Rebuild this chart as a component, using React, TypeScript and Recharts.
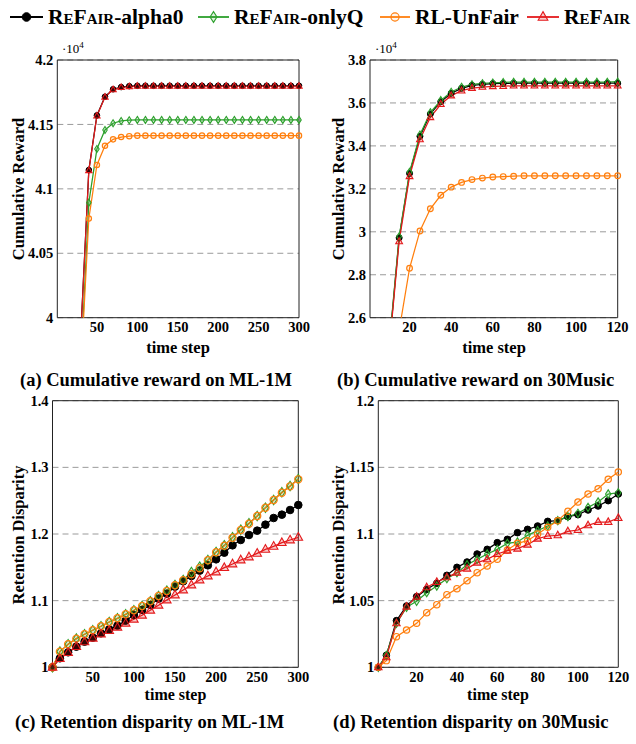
import React from 'react';
import { LineChart, Line, XAxis, YAxis, CartesianGrid, ReferenceArea } from 'recharts';

const FONT = '"Liberation Serif", "Times New Roman", serif';

const C_BLACK = '#000000';
const C_GREEN = '#2ca02c';
const C_ORANGE = '#ff7f0e';
const C_RED = '#e41a1c';

// ---------- (a) Cumulative reward on ML-1M (units of 1e4) ----------
const xA = [1, 10, 20, 30, 40, 50, 60, 70, 80, 90, 100, 110, 120, 130, 140, 150, 160, 170, 180, 190, 200, 210, 220, 230, 240, 250, 260, 270, 280, 290, 300];
const alpha0A = [1.0, 2.5, 3.6, 3.987, 4.1146, 4.157, 4.1715, 4.1773, 4.179, 4.1797, 4.18, 4.18, 4.18, 4.18, 4.18, 4.18, 4.18, 4.18, 4.18, 4.18, 4.18, 4.18, 4.18, 4.18, 4.18, 4.18, 4.18, 4.18, 4.18, 4.18, 4.18];
const onlyQA = [1.0, 2.5, 3.5, 3.962, 4.0893, 4.1309, 4.1457, 4.1509, 4.1527, 4.1533, 4.1535, 4.1535, 4.1535, 4.1535, 4.1535, 4.1535, 4.1535, 4.1535, 4.1535, 4.1535, 4.1535, 4.1535, 4.1535, 4.1535, 4.1535, 4.1535, 4.1535, 4.1535, 4.1535, 4.1535, 4.1535];
const unfairA = [1.0, 2.4, 3.45, 3.958, 4.0769, 4.1185, 4.1335, 4.1384, 4.1402, 4.1409, 4.1413, 4.1413, 4.1413, 4.1413, 4.1413, 4.1413, 4.1413, 4.1413, 4.1413, 4.1413, 4.1413, 4.1413, 4.1413, 4.1413, 4.1413, 4.1413, 4.1413, 4.1413, 4.1413, 4.1413, 4.1413];
const refairA = [1.0, 2.5, 3.6, 3.986, 4.1142, 4.1566, 4.1712, 4.177, 4.1787, 4.1794, 4.1797, 4.1797, 4.1797, 4.1797, 4.1797, 4.1797, 4.1797, 4.1797, 4.1797, 4.1797, 4.1797, 4.1797, 4.1797, 4.1797, 4.1797, 4.1797, 4.1797, 4.1797, 4.1797, 4.1797, 4.1797];
const xTicksA = [50, 100, 150, 200, 250, 300];
const yTicksA = [4, 4.05, 4.1, 4.15, 4.2];

// ---------- (b) Cumulative reward on 30Music (units of 1e4) ----------
const xB = [1, 5, 10, 15, 20, 25, 30, 35, 40, 45, 50, 55, 60, 65, 70, 75, 80, 85, 90, 95, 100, 105, 110, 115, 120];
const alpha0B = [0.6, 1.7, 2.44, 2.972, 3.272, 3.445, 3.549, 3.606, 3.645, 3.668, 3.682, 3.687, 3.69, 3.691, 3.692, 3.692, 3.692, 3.692, 3.692, 3.692, 3.692, 3.692, 3.692, 3.692, 3.692];
const onlyQB = [0.6, 1.7, 2.45, 2.978, 3.278, 3.452, 3.556, 3.612, 3.651, 3.674, 3.686, 3.691, 3.694, 3.696, 3.697, 3.697, 3.697, 3.697, 3.697, 3.697, 3.697, 3.697, 3.697, 3.697, 3.699];
const unfairB = [0.4, 1.2, 2.0, 2.54, 2.83, 3.004, 3.107, 3.17, 3.208, 3.23, 3.243, 3.25, 3.255, 3.257, 3.259, 3.261, 3.261, 3.261, 3.261, 3.261, 3.261, 3.261, 3.261, 3.261, 3.261];
const refairB = [0.6, 1.7, 2.43, 2.955, 3.258, 3.43, 3.533, 3.594, 3.634, 3.657, 3.669, 3.674, 3.677, 3.678, 3.68, 3.68, 3.68, 3.68, 3.68, 3.68, 3.68, 3.68, 3.68, 3.68, 3.68];
const xTicksB = [20, 40, 60, 80, 100, 120];
const yTicksB = [2.6, 2.8, 3, 3.2, 3.4, 3.6, 3.8];

// ---------- (c) Retention disparity on ML-1M ----------
const xC = [1, 10, 20, 30, 40, 50, 60, 70, 80, 90, 100, 110, 120, 130, 140, 150, 160, 170, 180, 190, 200, 210, 220, 230, 240, 250, 260, 270, 280, 290, 300];
const alpha0C = [1.0, 1.0135, 1.0225, 1.031, 1.0385, 1.0445, 1.051, 1.057, 1.0625, 1.07, 1.0785, 1.086, 1.0935, 1.103, 1.1105, 1.121, 1.129, 1.137, 1.145, 1.153, 1.162, 1.172, 1.183, 1.191, 1.1985, 1.205, 1.214, 1.224, 1.229, 1.236, 1.2435];
const onlyQC = [1.0, 1.0235, 1.0345, 1.043, 1.0495, 1.0555, 1.0615, 1.068, 1.0735, 1.0795, 1.0855, 1.092, 1.099, 1.107, 1.115, 1.1235, 1.131, 1.143, 1.151, 1.161, 1.173, 1.183, 1.195, 1.2065, 1.216, 1.227, 1.2395, 1.251, 1.2625, 1.272, 1.2825];
const unfairC = [1.0, 1.0235, 1.0345, 1.043, 1.0495, 1.0555, 1.0615, 1.068, 1.0735, 1.0795, 1.0855, 1.092, 1.099, 1.107, 1.1145, 1.123, 1.1305, 1.1395, 1.1485, 1.1605, 1.1725, 1.1825, 1.1945, 1.206, 1.2155, 1.227, 1.2395, 1.251, 1.262, 1.2715, 1.282];
const refairC = [1.0, 1.013, 1.022, 1.031, 1.038, 1.0435, 1.05, 1.055, 1.06, 1.066, 1.072, 1.078, 1.0855, 1.093, 1.101, 1.1085, 1.116, 1.1235, 1.131, 1.137, 1.143, 1.1495, 1.155, 1.161, 1.1655, 1.171, 1.177, 1.1815, 1.187, 1.191, 1.195];
const xTicksC = [50, 100, 150, 200, 250, 300];
const yTicksC = [1, 1.1, 1.2, 1.3, 1.4];

// ---------- (d) Retention disparity on 30Music ----------
const xD = [1, 5, 10, 15, 20, 25, 30, 35, 40, 45, 50, 55, 60, 65, 70, 75, 80, 85, 90, 95, 100, 105, 110, 115, 120];
const alpha0D = [1.0, 1.009, 1.035, 1.046, 1.053, 1.0585, 1.063, 1.069, 1.075, 1.079, 1.085, 1.0885, 1.0935, 1.096, 1.101, 1.1035, 1.106, 1.1095, 1.11, 1.113, 1.1145, 1.118, 1.121, 1.125, 1.13];
const onlyQD = [1.0, 1.009, 1.033, 1.045, 1.0495, 1.056, 1.061, 1.0665, 1.071, 1.077, 1.081, 1.085, 1.0885, 1.093, 1.094, 1.099, 1.1025, 1.106, 1.11, 1.113, 1.1155, 1.12, 1.124, 1.13, 1.131];
const unfairD = [1.0, 1.005, 1.023, 1.028, 1.033, 1.041, 1.047, 1.0545, 1.059, 1.065, 1.071, 1.076, 1.081, 1.088, 1.093, 1.095, 1.1, 1.105, 1.11, 1.117, 1.124, 1.13, 1.134, 1.141, 1.1465];
const refairD = [1.0, 1.0075, 1.033, 1.0455, 1.053, 1.06, 1.064, 1.0675, 1.071, 1.074, 1.0785, 1.081, 1.085, 1.0875, 1.089, 1.092, 1.0965, 1.0985, 1.099, 1.102, 1.103, 1.1065, 1.109, 1.109, 1.112];
const xTicksD = [20, 40, 60, 80, 100, 120];
const yTicksD = [1, 1.05, 1.1, 1.15, 1.2];

const SERIES = [
  { key: 'alpha0', color: C_BLACK, shape: 'disc' },
  { key: 'onlyQ', color: C_GREEN, shape: 'diamond' },
  { key: 'unfair', color: C_ORANGE, shape: 'ring' },
  { key: 'refair', color: C_RED, shape: 'triangle' },
];

function buildRows(xs: number[], a: number[], q: number[], u: number[], r: number[], y0: number, y1: number) {
  const inR = (v: number) => (v >= y0 && v <= y1 ? v : null);
  return xs.map((x, i) => ({
    x,
    alpha0: a[i], onlyQ: q[i], unfair: u[i], refair: r[i],
    alpha0_m: inR(a[i]), onlyQ_m: inR(q[i]), unfair_m: inR(u[i]), refair_m: inR(r[i]),
  }));
}

function markerShape(shape: string, color: string, cx: number, cy: number, s: number, key?: string) {
  if (shape === 'disc') {
    return <circle key={key} cx={cx} cy={cy} r={s} fill={color} stroke={color} strokeWidth={1} />;
  }
  if (shape === 'ring') {
    return <circle key={key} cx={cx} cy={cy} r={s * 0.95} fill={color} fillOpacity={0.08} stroke={color} strokeWidth={1.2} />;
  }
  if (shape === 'diamond') {
    const w = s * 0.8, h = s * 1.25;
    return <path key={key} d={`M${cx},${cy - h}L${cx + w},${cy}L${cx},${cy + h}L${cx - w},${cy}Z`} fill={color} fillOpacity={0.15} stroke={color} strokeWidth={1.1} />;
  }
  const t = s * 1.25;
  return <path key={key} d={`M${cx},${cy - t}L${cx + t * 0.9},${cy + t * 0.6}L${cx - t * 0.9},${cy + t * 0.6}Z`} fill={color} fillOpacity={0.22} stroke={color} strokeWidth={1.1} />;
}

const makeDot = (shape: string, color: string, s: number) => (p: any) => {
  const k = `m-${p.index}`;
  if (p.cx == null || p.cy == null || p.value == null || Number.isNaN(p.cy)) return <g key={k} />;
  return markerShape(shape, color, p.cx, p.cy, s, k);
};

type Rect = { left: number; top: number; right: number; bottom: number };
type Box = { left: number; top: number; width: number; height: number };

function Panel(props: {
  box: Box; plot: Rect; rows: any[]; xDomain: [number, number]; xTicks: number[];
  yDomain: [number, number]; yTicks: number[]; ms: number;
}) {
  const { box, plot, rows, xDomain, xTicks, yDomain, yTicks, ms } = props;
  const xH = 24;
  const margin = {
    top: plot.top - box.top,
    right: box.left + box.width - plot.right,
    left: 0,
    bottom: box.top + box.height - plot.bottom - xH,
  };
  const tickStyle = { fill: '#000', fontFamily: FONT, fontWeight: 700, fontSize: 14.5 };
  return (
    <div style={{ position: 'absolute', left: box.left, top: box.top, width: box.width, height: box.height }}>
      <LineChart width={box.width} height={box.height} data={rows} margin={margin}>
        <CartesianGrid yAxisId="main" vertical={false} stroke="#9a9a9a" strokeDasharray="6 4" strokeWidth={1} />
        <XAxis dataKey="x" type="number" domain={xDomain} ticks={xTicks} interval={0}
          tickLine={false} axisLine={false} tickSize={0} tickMargin={4} height={xH} tick={tickStyle} />
        <YAxis yAxisId="main" type="number" domain={yDomain} ticks={yTicks} interval={0} allowDataOverflow
          width={plot.left - box.left} tickLine={false} axisLine={false} tickSize={0} tickMargin={4} tick={tickStyle} />
        <YAxis yAxisId="mk" type="number" domain={yDomain} ticks={yTicks} hide />
        <ReferenceArea yAxisId="main" x1={xDomain[0]} x2={xDomain[1]} y1={yDomain[0]} y2={yDomain[1]}
          fill="none" stroke="#222" strokeWidth={1} />
        {SERIES.flatMap((s) => [
          <Line key={s.key} yAxisId="main" type="linear" dataKey={s.key} stroke={s.color} strokeWidth={1.25}
            dot={false} activeDot={false} isAnimationActive={false} />,
          <Line key={s.key + '_m'} yAxisId="mk" type="linear" dataKey={s.key + '_m'} stroke="none"
            dot={makeDot(s.shape, s.color, ms)} activeDot={false} isAnimationActive={false} />,
        ])}
      </LineChart>
    </div>
  );
}

const rowsA = buildRows(xA, alpha0A, onlyQA, unfairA, refairA, 4, 4.2);
const rowsB = buildRows(xB, alpha0B, onlyQB, unfairB, refairB, 2.6, 3.8);
const rowsC = buildRows(xC, alpha0C, onlyQC, unfairC, refairC, 1, 1.4);
const rowsD = buildRows(xD, alpha0D, onlyQD, unfairD, refairD, 1, 1.2);

const LEGEND = [
  { sc: 'ReFair', rest: '-alpha0', x0: 10, x1: 43, tx: 48, color: C_BLACK, shape: 'disc' },
  { sc: 'ReFair', rest: '-onlyQ', x0: 198, x1: 229, tx: 234, color: C_GREEN, shape: 'diamond' },
  { sc: '', rest: 'RL-UnFair', x0: 380, x1: 410, tx: 415, color: C_ORANGE, shape: 'ring' },
  { sc: 'ReFair', rest: '', x0: 527, x1: 559, tx: 564, color: C_RED, shape: 'triangle' },
];

export default function App() {
  const labelStyle = { fontFamily: FONT, fontWeight: 700, fontSize: 16.5 } as const;
  const labelStyleB = { fontFamily: FONT, fontWeight: 700, fontSize: 16 } as const;
  const ly = 17;
  return (
    <div style={{ position: 'absolute', left: 0, top: 0, width: 636, height: 744, background: '#fff', overflow: 'hidden' }}>
      <Panel box={{ left: 0, top: 30, width: 316, height: 320 }} plot={{ left: 57.3, top: 60, right: 299, bottom: 317.7 }}
        rows={rowsA} xDomain={[1, 300]} xTicks={xTicksA} yDomain={[4, 4.2]} yTicks={yTicksA} ms={2.8} />
      <Panel box={{ left: 318, top: 30, width: 318, height: 320 }} plot={{ left: 370, top: 60, right: 617.7, bottom: 317.7 }}
        rows={rowsB} xDomain={[1, 120]} xTicks={xTicksB} yDomain={[2.6, 3.8]} yTicks={yTicksB} ms={3} />
      <Panel box={{ left: 0, top: 390, width: 316, height: 310 }} plot={{ left: 52.5, top: 400.7, right: 298.3, bottom: 667.3 }}
        rows={rowsC} xDomain={[1, 300]} xTicks={xTicksC} yDomain={[1, 1.4]} yTicks={yTicksC} ms={3.8} />
      <Panel box={{ left: 318, top: 390, width: 318, height: 310 }} plot={{ left: 378.3, top: 400.7, right: 618.3, bottom: 667.3 }}
        rows={rowsD} xDomain={[1, 120]} xTicks={xTicksD} yDomain={[1, 1.2]} yTicks={yTicksD} ms={3.3} />

      <svg width={636} height={744} style={{ position: 'absolute', left: 0, top: 0, pointerEvents: 'none' }}>
        {/* legend */}
        {LEGEND.map((l, i) => (
          <g key={i}>
            <line x1={l.x0} x2={l.x1} y1={ly} y2={ly} stroke={l.color} strokeWidth={1.8} />
            {markerShape(l.shape, l.color, (l.x0 + l.x1) / 2, ly, 4.3)}
            <text x={l.tx} y={ly} dominantBaseline="central" fontFamily={FONT} fontWeight={700} fontSize={21.5} fill="#000">
              {l.sc ? <tspan fontVariant="small-caps" style={{ fontVariant: 'small-caps' }}>{l.sc}</tspan> : null}
              {l.rest ? <tspan>{l.rest}</tspan> : null}
            </text>
          </g>
        ))}

        {/* multipliers */}
        <text x={62} y={53} fontFamily={FONT} fontSize={13} fill="#000">·10<tspan dy={-5} fontSize={9}>4</tspan></text>
        <text x={375} y={53} fontFamily={FONT} fontSize={13} fill="#000">·10<tspan dy={-5} fontSize={9}>4</tspan></text>

        {/* y axis titles */}
        <text transform="translate(18,189) rotate(-90)" textAnchor="middle" dominantBaseline="central" {...labelStyle}>Cumulative Reward</text>
        <text transform="translate(338,189) rotate(-90)" textAnchor="middle" dominantBaseline="central" {...labelStyle}>Cumulative Reward</text>
        <text transform="translate(18.5,535) rotate(-90)" textAnchor="middle" dominantBaseline="central" {...labelStyle}>Retention Disparity</text>
        <text transform="translate(338,535) rotate(-90)" textAnchor="middle" dominantBaseline="central" {...labelStyle}>Retention Disparity</text>

        {/* x axis titles */}
        <text x={178} y={347} textAnchor="middle" dominantBaseline="central" {...labelStyle}>time step</text>
        <text x={494} y={347} textAnchor="middle" dominantBaseline="central" {...labelStyle}>time step</text>
        <text x={175.5} y={700} textAnchor="middle" {...labelStyleB}>time step</text>
        <text x={498} y={700} textAnchor="middle" {...labelStyleB}>time step</text>

        {/* captions */}
        <text x={20} y={380} dominantBaseline="central" fontFamily={FONT} fontWeight={700} fontSize={18.5}>(a) Cumulative reward on ML-1M</text>
        <text x={337} y={380} dominantBaseline="central" fontFamily={FONT} fontWeight={700} fontSize={18.5}>(b) Cumulative reward on 30Music</text>
        <text x={15} y={722} dominantBaseline="central" fontFamily={FONT} fontWeight={700} fontSize={18.5}>(c) Retention disparity on ML-1M</text>
        <text x={333} y={722} dominantBaseline="central" fontFamily={FONT} fontWeight={700} fontSize={18.5}>(d) Retention disparity on 30Music</text>
      </svg>
    </div>
  );
}
